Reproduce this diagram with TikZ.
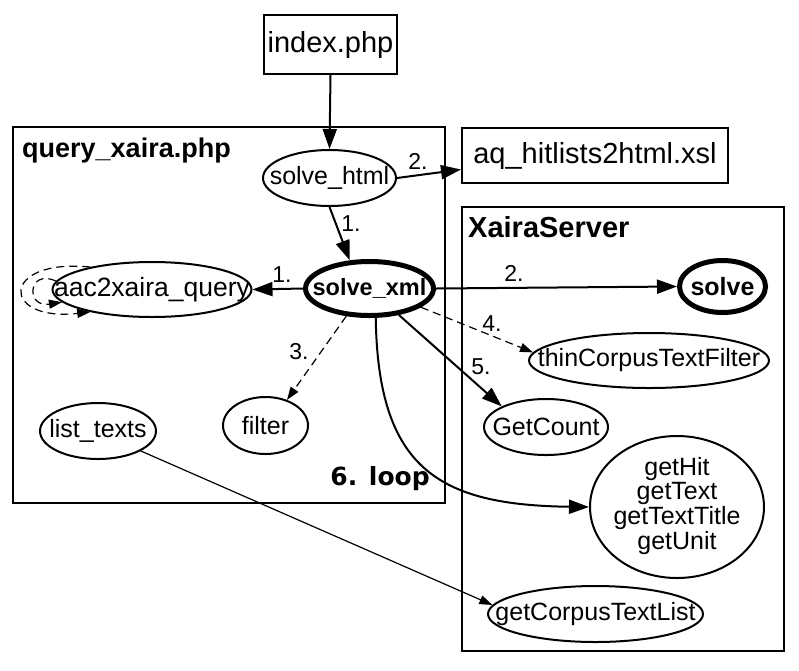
\documentclass[tikz,border=0pt]{standalone}
\usepackage{fontspec}
\setmainfont{Liberation Sans}
\newfontfamily\dejavu{DejaVu Sans}
\usetikzlibrary{shapes.geometric,arrows.meta}
\newcommand\ctext[1]{\makebox[0pt]{#1}}
\tikzset{
  ell/.style={ellipse, draw, line width=2pt, inner sep=0pt, font=\fontsize{25}{25}\selectfont},
  boldell/.style={ellipse, draw, line width=5pt, inner sep=0pt, font=\bfseries\fontsize{25}{25}\selectfont},
  filebox/.style={rectangle, draw, line width=2pt, inner sep=0pt, font=\fontsize{29}{29}\selectfont},
  cluster/.style={rectangle, draw, line width=2pt, inner sep=0pt},
  lbl/.style={inner sep=0pt, font=\fontsize{23}{23}\selectfont},
  ctitle/.style={inner sep=0pt, font=\bfseries\fontsize{28}{28}\selectfont},
  edge/.style={line width=2pt, -{Triangle[length=20pt,width=14pt]}},
  thinedge/.style={line width=1.2pt, -{Triangle[length=13pt,width=9pt]}},
  dashedge/.style={thinedge, dash pattern=on 8pt off 5pt},
}
\begin{document}
\begin{tikzpicture}[x=1pt,y=-1pt]
\useasboundingbox (0,0) rectangle (799,670);
% clusters
\node[cluster, minimum width=432, minimum height=376] (qx) at (229,315) {};
\node[cluster, minimum width=322, minimum height=444] (xs) at (623,429) {};
\node[ctitle, anchor=base west, font=\bfseries\fontsize{27}{27}\selectfont] (qxt) at (22,157) {query\_xaira.php};
\node[ctitle, anchor=base west, font=\bfseries\fontsize{29}{29}\selectfont] (xst) at (468,237) {XairaServer};
\node[inner sep=0pt, anchor=base east, font=\dejavu\bfseries\fontsize{25}{25}\selectfont] (loop) at (430,485) {6. loop};
% nodes
\node[filebox, minimum width=133, minimum height=59] (index) at (330.5,44.5) {index.php};
\node[filebox, minimum width=266, minimum height=55] (aq) at (595,155.5) {aq\_hitlists2html.xsl};
\node[ell, minimum width=133, minimum height=56] (shtml) at (329.5,178) {\ctext{solve\_html}};
\node[boldell, minimum width=128, minimum height=54, font=\bfseries\fontsize{23.5}{23.5}\selectfont] (sxml) at (369.5,288.5) {\ctext{solve\_xml}};
\node[ell, minimum width=199, minimum height=55, font=\fontsize{26.5}{26.5}\selectfont] (aac) at (152,289.5) {\ctext{aac2xaira\_query}};
\node[boldell, minimum width=86, minimum height=52] (solve) at (722.5,286.5) {\ctext{solve}};
\node[ell, minimum width=240, minimum height=55] (thin) at (649,360.5) {\ctext{thinCorpusTextFilter}};
\node[ell, minimum width=124, minimum height=56] (gcount) at (546,427) {\ctext{GetCount}};
\node[ell, minimum width=174, minimum height=142, font=\fontsize{25}{22.5}\selectfont] (ghit) at (677,507) {\ctext{\begin{tabular}{@{}c@{}}getHit\\getText\\getTextTitle\\getUnit\end{tabular}}};
\node[ell, minimum width=215, minimum height=56] (gctl) at (595.5,614) {\ctext{getCorpusTextList}};
\node[ell, minimum width=85, minimum height=57] (filter) at (265.5,425.5) {\ctext{filter}};
\node[ell, minimum width=116, minimum height=56] (ltexts) at (98,431) {\ctext{list\_texts}};
% edges
\draw[edge] (index.south) -- (shtml.north);
\draw[edge] (shtml.east) -- ([yshift=-14pt]aq.west);
\draw[edge] (shtml.south) -- (sxml.125);
\draw[edge] (sxml.west) -- (aac.east);
\draw[edge] (sxml.east) -- (solve.west);
\draw[dashedge] (sxml.-20) -- (thin.176);
\draw[edge] (sxml.-42) -- (gcount.155);
\draw[dashedge] (sxml.-130) -- (filter.50);
\draw[edge] (sxml.-78) .. controls (378,470) and (440,505) .. (ghit.west);
\draw[thinedge] (ltexts.-25) -- (gctl.175);
\draw[dashedge] (aac.160) .. controls (0,258) and (0,322) .. (aac.200);
\draw[dashedge] (aac.175) .. controls (28,268) and (25,308) .. (aac.188);
% edge labels
\node[lbl] (l1a) at (351,224) {1.};
\node[lbl] (l2a) at (418,161) {2.};
\node[lbl] (l1b) at (282,275) {1.};
\node[lbl] (l2b) at (514,273) {2.};
\node[lbl] (l4) at (492,324) {4.};
\node[lbl] (l5) at (481,367) {5.};
\node[lbl] (l3) at (299,352) {3.};
\end{tikzpicture}
\end{document}
